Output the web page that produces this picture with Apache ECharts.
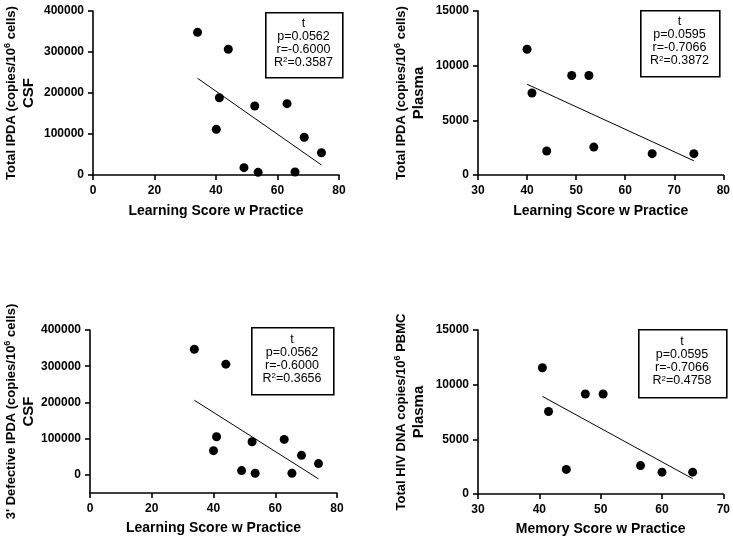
<!DOCTYPE html>
<html>
<head>
<meta charset="utf-8">
<script src="https://cdn.jsdelivr.net/npm/echarts@6/dist/echarts.min.js"></script>
<style>
html,body{margin:0;padding:0;background:#fff;}
#c{width:733px;height:539px;}
</style>
</head>
<body>
<div id="c"></div>
<script>
// ---- data ----
const p1X = [34, 44, 41.1, 40.1, 49.1, 52.6, 53.7, 63.1, 65.7, 68.7, 74.3];
const p1Y = [348000, 306600, 188500, 111400, 17900, 168300, 6500, 174000, 7300, 92000, 54400];
const p1FitX = [34, 74.3];
const p1FitY = [235800, 24400];

const p2X = [40, 41, 44, 49.1, 52.6, 53.6, 65.5, 74];
const p2Y = [11500, 7500, 2200, 9100, 9100, 2550, 1950, 1950];
const p2FitX = [40, 74];
const p2FitY = [8300, 1300];

const p3X = [33.8, 44, 41, 40, 49.1, 52.5, 53.5, 62.9, 65.4, 68.5, 74];
const p3Y = [347000, 305700, 105300, 66800, 11900, 91500, 4600, 97900, 4600, 54000, 31100];
const p3FitX = [33.8, 74];
const p3FitY = [206000, -11000];

const p4X = [40.5, 41.5, 44.4, 47.5, 50.4, 56.5, 60, 65];
const p4Y = [11550, 7550, 2250, 9150, 9150, 2600, 2000, 2000];
const p4FitX = [40.5, 65];
const p4FitY = [8930, 1400];

const statP = ['0.0562', '0.0595', '0.0562', '0.0595'];
const statR = ['-0.6000', '-0.7066', '-0.6000', '-0.7066'];
const statR2 = ['0.3587', '0.3872', '0.3656', '0.4758'];

const xNames = ['Learning Score w Practice', 'Learning Score w Practice', 'Learning Score w Practice', 'Memory Score w Practice'];
const yNameMain = ['Total IPDA (copies/10', 'Total IPDA (copies/10', "3' Defective IPDA (copies/10", 'Total HIV DNA copies/10'];
const yNameTail = [' cells)', ' cells)', ' cells)', ' PBMC'];
const yNameSub = ['CSF', 'Plasma', 'CSF', 'Plasma'];

const xMin = [0, 30, 0, 30], xMax = [80, 80, 80, 70], xInt = [20, 10, 20, 10];
const yMin = [0, 0, -50000, 0], yMax = [400000, 15000, 400000, 15000], yInt = [100000, 5000, 100000, 5000];
const yTickVals = [
  [0, 100000, 200000, 300000, 400000],
  [0, 5000, 10000, 15000],
  [0, 100000, 200000, 300000, 400000],
  [0, 5000, 10000, 15000]
];

const FONT = "'Liberation Sans', Arial, Helvetica, sans-serif";

const grids = [
  {left: 93, top: 11, width: 246, height: 164},
  {left: 478, top: 11, width: 247, height: 164},
  {left: 90, top: 330, width: 247, height: 163},
  {left: 478, top: 330, width: 247, height: 164}
];
const yNameGap = [56, 51, 53, 51];
const xNameGap = [29, 29, 28, 28];
const boxes = [
  {x: 265, y: 12, w: 77, h: 65},
  {x: 640, y: 10, w: 79, h: 66},
  {x: 251, y: 327, w: 82, h: 67},
  {x: 638, y: 329, w: 88, h: 68}
];

const pts = [[p1X, p1Y], [p2X, p2Y], [p3X, p3Y], [p4X, p4Y]];
const fits = [[p1FitX, p1FitY], [p2FitX, p2FitY], [p3FitX, p3FitY], [p4FitX, p4FitY]];

const plain = v => String(v);

const xAxes = [], yAxes = [], series = [], graphic = [];
for (let i = 0; i < 4; i++) {
  xAxes.push({
    type: 'value', gridIndex: i, min: xMin[i], max: xMax[i], interval: xInt[i],
    name: xNames[i], nameLocation: 'middle', nameGap: xNameGap[i],
    nameTextStyle: {fontFamily: FONT, fontWeight: 'bold', fontSize: 14, color: '#000'},
    axisLine: {show: true, onZero: false, lineStyle: {color: '#000', width: 1.6}},
    axisTick: {show: true, length: 5, lineStyle: {color: '#000', width: 1.6}},
    axisLabel: {fontFamily: FONT, fontWeight: 'bold', fontSize: 12, color: '#000', margin: 10, formatter: plain},
    splitLine: {show: false}
  });
  yAxes.push({
    type: 'value', gridIndex: i, min: yMin[i], max: yMax[i],
    interval: i === 2 ? undefined : yInt[i],
    name: '{a|' + yNameMain[i] + '}{s|6}{a|' + yNameTail[i] + '}\n{b|' + yNameSub[i] + '}',
    nameLocation: 'middle', nameGap: yNameGap[i],
    nameTextStyle: {
      fontFamily: FONT, fontWeight: 'bold', color: '#000', align: 'center',
      rich: {
        a: {fontFamily: FONT, fontWeight: 'bold', fontSize: 13, color: '#000', lineHeight: 17},
        s: {fontFamily: FONT, fontWeight: 'bold', fontSize: 9, color: '#000', lineHeight: 17, verticalAlign: 'top'},
        b: {fontFamily: FONT, fontWeight: 'bold', fontSize: 15, color: '#000', lineHeight: 17}
      }
    },
    axisLine: {show: true, onZero: false, lineStyle: {color: '#000', width: 1.6}},
    axisTick: {show: true, length: 5, lineStyle: {color: '#000', width: 1.6}, customValues: yTickVals[i]},
    axisLabel: {fontFamily: FONT, fontWeight: 'bold', fontSize: 12, color: '#000', margin: 9, customValues: yTickVals[i], formatter: plain},
    splitLine: {show: false}
  });
  series.push({
    type: 'scatter', xAxisIndex: i, yAxisIndex: i,
    data: pts[i][0].map((x, k) => [x, pts[i][1][k]]),
    symbol: 'circle', symbolSize: 9,
    itemStyle: {color: '#000', opacity: 1}, z: 3, silent: true
  });
  series.push({
    type: 'line', xAxisIndex: i, yAxisIndex: i,
    data: fits[i][0].map((x, k) => [x, fits[i][1][k]]),
    showSymbol: false, symbol: 'none',
    lineStyle: {color: '#000', width: 1}, z: 2, silent: true
  });
  const b = boxes[i];
  graphic.push({
    type: 'rect', left: b.x, top: b.y,
    shape: {width: b.w, height: b.h},
    style: {fill: '#fff', stroke: '#000', lineWidth: 1.6}, z: 10
  });
  graphic.push({
    type: 'text', x: b.x + b.w / 2, y: b.y + b.h / 2 - 1.5, z: 11,
    style: {
      text: '{n|t}\n{n|p=' + statP[i] + '}\n{n|r=' + statR[i] + '}\n{n|R}{s|2}{n|=' + statR2[i] + '}',
      align: 'center', verticalAlign: 'middle',
      rich: {
        n: {fontFamily: FONT, fontSize: 12.5, fill: '#000', lineHeight: 13},
        s: {fontFamily: FONT, fontSize: 8, fill: '#000', lineHeight: 13, verticalAlign: 'top'}
      }
    }
  });
}

const chart = echarts.init(document.getElementById('c'), null, {renderer: 'canvas'});
chart.setOption({
  animation: false,
  backgroundColor: '#fff',
  grid: grids.map(g => Object.assign({containLabel: false}, g)),
  xAxis: xAxes,
  yAxis: yAxes,
  series: series,
  graphic: graphic
});
</script>
</body>
</html>
